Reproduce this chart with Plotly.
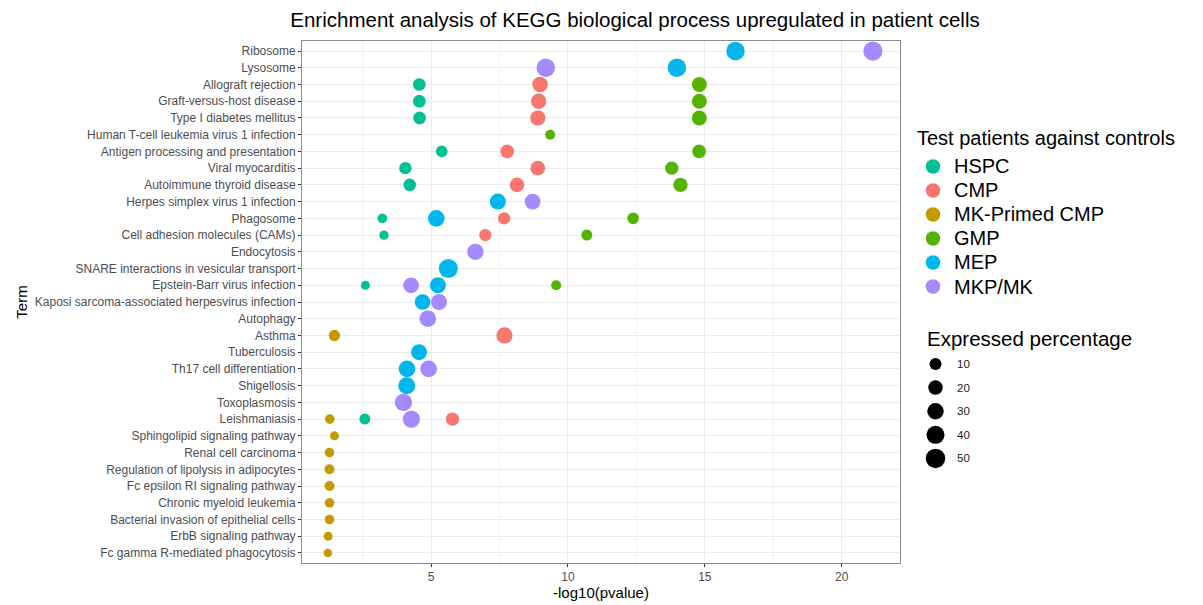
import numpy as np
import plotly.graph_objects as go

# ---------------- data ----------------
TERMS = [
    "Ribosome", "Lysosome", "Allograft rejection", "Graft-versus-host disease",
    "Type I diabetes mellitus", "Human T-cell leukemia virus 1 infection",
    "Antigen processing and presentation", "Viral myocarditis",
    "Autoimmune thyroid disease", "Herpes simplex virus 1 infection", "Phagosome",
    "Cell adhesion molecules (CAMs)", "Endocytosis",
    "SNARE interactions in vesicular transport", "Epstein-Barr virus infection",
    "Kaposi sarcoma-associated herpesvirus infection", "Autophagy", "Asthma",
    "Tuberculosis", "Th17 cell differentiation", "Shigellosis", "Toxoplasmosis",
    "Leishmaniasis", "Sphingolipid signaling pathway", "Renal cell carcinoma",
    "Regulation of lipolysis in adipocytes", "Fc epsilon RI signaling pathway",
    "Chronic myeloid leukemia", "Bacterial invasion of epithelial cells",
    "ErbB signaling pathway", "Fc gamma R-mediated phagocytosis",
]

GROUPS = ["HSPC", "CMP", "MK-Primed CMP", "GMP", "MEP", "MKP/MK"]

HSPC_terms = ["Allograft rejection", "Graft-versus-host disease", "Type I diabetes mellitus",
              "Antigen processing and presentation", "Viral myocarditis",
              "Autoimmune thyroid disease", "Phagosome", "Cell adhesion molecules (CAMs)",
              "Epstein-Barr virus infection", "Leishmaniasis"]
HSPC_logp = [4.57, 4.57, 4.58, 5.39, 4.06, 4.22, 3.22, 3.28, 2.60, 2.58]
HSPC_pct = [12.5, 12.5, 12.5, 9, 11, 12, 3.8, 3.2, 2.5, 7]

CMP_terms = ["Allograft rejection", "Graft-versus-host disease", "Type I diabetes mellitus",
             "Antigen processing and presentation", "Viral myocarditis",
             "Autoimmune thyroid disease", "Phagosome", "Cell adhesion molecules (CAMs)",
             "Asthma", "Leishmaniasis"]
CMP_logp = [8.98, 8.93, 8.90, 7.78, 8.90, 8.14, 7.67, 6.98, 7.68, 5.78]
CMP_pct = [25, 24, 23, 16, 21, 20, 11, 11, 29, 15]

MKPRIMED_terms = ["Asthma", "Leishmaniasis", "Sphingolipid signaling pathway",
                  "Renal cell carcinoma", "Regulation of lipolysis in adipocytes",
                  "Fc epsilon RI signaling pathway", "Chronic myeloid leukemia",
                  "Bacterial invasion of epithelial cells", "ErbB signaling pathway",
                  "Fc gamma R-mediated phagocytosis"]
MKPRIMED_logp = [1.47, 1.30, 1.47, 1.29, 1.29, 1.29, 1.29, 1.29, 1.24, 1.23]
MKPRIMED_pct = [8, 3.8, 2.6, 3.6, 4.5, 4.5, 3.6, 3.6, 2.5, 2]

GMP_terms = ["Allograft rejection", "Graft-versus-host disease", "Type I diabetes mellitus",
             "Human T-cell leukemia virus 1 infection", "Antigen processing and presentation",
             "Viral myocarditis", "Autoimmune thyroid disease", "Phagosome",
             "Cell adhesion molecules (CAMs)", "Epstein-Barr virus infection"]
GMP_logp = [14.80, 14.80, 14.80, 9.35, 14.79, 13.79, 14.11, 12.38, 10.69, 9.57]
GMP_pct = [22, 22, 22, 4.5, 16, 15, 19, 9, 7, 4.5]

MEP_terms = ["Ribosome", "Lysosome", "Herpes simplex virus 1 infection", "Phagosome",
             "SNARE interactions in vesicular transport", "Epstein-Barr virus infection",
             "Kaposi sarcoma-associated herpesvirus infection", "Tuberculosis",
             "Th17 cell differentiation", "Shigellosis"]
MEP_logp = [16.12, 13.98, 7.44, 5.19, 5.63, 5.25, 4.69, 4.56, 4.12, 4.11]
MEP_pct = [43, 43, 27.5, 31, 46, 27.5, 26, 27.5, 31, 33]

MKP_terms = ["Ribosome", "Lysosome", "Herpes simplex virus 1 infection", "Endocytosis",
             "Epstein-Barr virus infection", "Kaposi sarcoma-associated herpesvirus infection",
             "Autophagy", "Th17 cell differentiation", "Toxoplasmosis", "Leishmaniasis"]
MKP_logp = [21.14, 9.19, 8.71, 6.62, 4.27, 5.29, 4.88, 4.91, 3.99, 4.28]
MKP_pct = [48, 43, 26, 29, 26, 27.5, 31, 31, 35, 35]

SIZE_BREAKS = [10, 20, 30, 40, 50]
X_TICKS = [5, 10, 15, 20]

# ---------------- style ----------------
COLORS = {"HSPC": "#00C094", "CMP": "#F8766D", "MK-Primed CMP": "#C49A00",
          "GMP": "#53B400", "MEP": "#00B6EB", "MKP/MK": "#A58AFF"}
SERIES = {
    "HSPC": (HSPC_terms, HSPC_logp, HSPC_pct),
    "CMP": (CMP_terms, CMP_logp, CMP_pct),
    "MK-Primed CMP": (MKPRIMED_terms, MKPRIMED_logp, MKPRIMED_pct),
    "GMP": (GMP_terms, GMP_logp, GMP_pct),
    "MEP": (MEP_terms, MEP_logp, MEP_pct),
    "MKP/MK": (MKP_terms, MKP_logp, MKP_pct),
}
FONT = "Liberation Sans, Arial, Helvetica, sans-serif"


def size_px(p):
    return 5.93 + 1.92 * np.sqrt(np.asarray(p, dtype=float))


# page has an 8px body margin: lay out in window pixels, then shift
OFF = 8
WIN_W, WIN_H = 1203, 605
W, H = WIN_W - OFF, WIN_H - OFF
PANEL_L, PANEL_R, PANEL_T, PANEL_B = 302, 900, 41, 563  # window px
ML = PANEL_L - OFF
MT = PANEL_T - OFF
MB = H - (PANEL_B - OFF)
MR = 3
PW = W - ML - MR
PH = H - MT - MB


def paper_x(wx):
    return (wx - OFF - ML) / PW


def paper_y(wy):
    return (H - MB - (wy - OFF)) / PH


# legend region (window px) drawn on auxiliary axes
LEG_X0, LEG_X1, LEG_Y0, LEG_Y1 = 905, 1195, 120, 485

fig = go.Figure()

for g in GROUPS:
    t, x, p = SERIES[g]
    fig.add_trace(go.Scatter(
        x=x, y=t, mode="markers", name=g, showlegend=False,
        marker=dict(color=COLORS[g], size=size_px(p), line=dict(width=0), opacity=1),
        xaxis="x", yaxis="y",
    ))

# colour legend keys
KEY_X, KEY_TX = 933, 952
COL_Y0, COL_DY = 166.5, 24.0
fig.add_trace(go.Scatter(
    x=[KEY_X] * len(GROUPS), y=[COL_Y0 + COL_DY * i for i in range(len(GROUPS))],
    mode="markers",
    marker=dict(color=[COLORS[g] for g in GROUPS], size=14.5, line=dict(width=0), opacity=1),
    showlegend=False, hoverinfo="skip", xaxis="x2", yaxis="y2",
))
# size legend keys
SIZE_X, SIZE_TX = 935.5, 955
SIZE_Y0, SIZE_DY = 364, 23.6
fig.add_trace(go.Scatter(
    x=[SIZE_X] * len(SIZE_BREAKS), y=[SIZE_Y0 + SIZE_DY * i for i in range(len(SIZE_BREAKS))],
    mode="markers",
    marker=dict(color="#000000", size=size_px(SIZE_BREAKS), line=dict(width=0), opacity=1),
    showlegend=False, hoverinfo="skip", xaxis="x2", yaxis="y2",
))

annotations = [
    dict(text="Test patients against controls", x=915, y=138.3, xref="x2", yref="y2",
         xanchor="left", yanchor="middle", showarrow=False,
         font=dict(size=20, color="black", family=FONT)),
    dict(text="Expressed percentage", x=925, y=338, xref="x2", yref="y2",
         xanchor="left", yanchor="middle", showarrow=False,
         font=dict(size=20.5, color="black", family=FONT)),
]
for i, g in enumerate(GROUPS):
    annotations.append(dict(text=g, x=KEY_TX, y=COL_Y0 + COL_DY * i, xref="x2", yref="y2",
                            xanchor="left", yanchor="middle", showarrow=False,
                            font=dict(size=20, color="black", family=FONT)))
for i, b in enumerate(SIZE_BREAKS):
    annotations.append(dict(text=str(b), x=SIZE_TX, y=SIZE_Y0 + SIZE_DY * i, xref="x2", yref="y2",
                            xanchor="left", yanchor="middle", showarrow=False,
                            font=dict(size=11.5, color="#1a1a1a", family=FONT)))

n = len(TERMS)
fig.update_layout(
    width=W, height=H,
    margin=dict(l=ML, r=MR, t=MT, b=MB),
    paper_bgcolor="white", plot_bgcolor="white",
    font=dict(family=FONT, color="#1a1a1a"),
    showlegend=False,
    title=dict(text="Enrichment analysis of KEGG biological process upregulated in patient cells",
               x=(635 - OFF) / W, xref="container", xanchor="center",
               y=1 - (19.5 - OFF) / H, yref="container", yanchor="middle",
               font=dict(size=20.5, color="black", family=FONT)),
    xaxis=dict(
        domain=[0, paper_x(PANEL_R)], range=[0.285, 22.13], autorange=False,
        tickvals=X_TICKS, ticktext=[str(v) for v in X_TICKS],
        ticks="outside", ticklen=3, tickcolor="#333333", tickwidth=1,
        tickfont=dict(size=12, color="#4d4d4d"),
        showgrid=True, gridcolor="#EBEBEB", gridwidth=1,
        minor=dict(tick0=2.5, dtick=5, showgrid=True, gridcolor="#F2F2F2", gridwidth=0.7),
        zeroline=False, showline=True, mirror=True, linecolor="#8c8c8c", linewidth=1,
        title=dict(text="-log10(pvalue)", font=dict(size=15, color="black"), standoff=3),
        automargin=False,
    ),
    yaxis=dict(
        type="category", categoryorder="array", categoryarray=TERMS,
        range=[n - 1 + 0.6, -0.6], autorange=False,
        ticks="outside", ticklen=3, tickcolor="#333333", tickwidth=1,
        tickfont=dict(size=12, color="#4d4d4d"),
        showgrid=True, gridcolor="#EBEBEB", gridwidth=1,
        zeroline=False, showline=True, mirror=True, linecolor="#8c8c8c", linewidth=1,
        title=dict(text="Term", font=dict(size=15, color="black"), standoff=3),
        automargin=False,
    ),
    xaxis2=dict(domain=[paper_x(LEG_X0), paper_x(LEG_X1)], range=[LEG_X0, LEG_X1],
                autorange=False, visible=False, anchor="y2"),
    yaxis2=dict(domain=[paper_y(LEG_Y1), paper_y(LEG_Y0)], range=[LEG_Y1, LEG_Y0],
                autorange=False, visible=False, anchor="x2"),
    annotations=annotations,
)

fig.write_html("out.html")
